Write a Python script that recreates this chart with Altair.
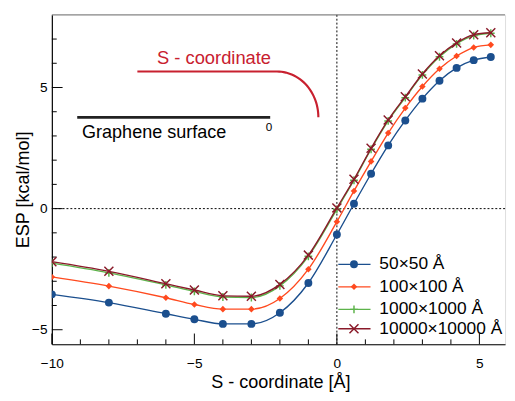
import altair as alt
import pandas as pd
import numpy as np

# ---- data ----
x_vals = [-10, -8, -6, -5, -4, -3, -2, -1, 0, 0.6, 1.2, 1.8, 2.4, 3.0, 3.6, 4.2, 4.8, 5.4]
series_names = ["50×50 Å", "100×100 Å", "1000×1000 Å", "10000×10000 Å"]
esp_50 = [-3.54, -3.88, -4.34, -4.57, -4.76, -4.76, -4.30, -3.07, -1.07, 0.20, 1.44, 2.61, 3.64, 4.54, 5.28, 5.81, 6.13, 6.26]
esp_100 = [-2.82, -3.20, -3.68, -3.96, -4.15, -4.15, -3.71, -2.50, -0.54, 0.73, 1.95, 3.12, 4.15, 5.04, 5.77, 6.30, 6.65, 6.76]
esp_1000 = [-2.25, -2.65, -3.15, -3.42, -3.65, -3.67, -3.19, -1.97, -0.03, 1.17, 2.45, 3.62, 4.58, 5.52, 6.27, 6.80, 7.14, 7.24]
esp_10000 = [-2.19, -2.59, -3.10, -3.36, -3.60, -3.62, -3.13, -1.92, 0.03, 1.21, 2.49, 3.66, 4.62, 5.56, 6.31, 6.84, 7.18, 7.26]
all_series = [esp_50, esp_100, esp_1000, esp_10000]

x_major = [-10, -5, 0, 5]
x_minor = [v for v in range(-9, 6) if v not in x_major]
y_major = [-5, 0, 5]
y_minor = [v for v in range(-4, 8) if v not in y_major]

colors = ["#1b4f8e", "#ff4a1f", "#5cb34a", "#8a1a2a"]
shapes = ["circle", "diamond", "M-1,0L1,0M0,-1L0,1", "M-1,-1L1,1M-1,1L1,-1"]
sizes = [66, 45, 64, 85]
filled = [True, True, False, False]

# legend layout (data coordinates)
legend_rows_y = [-2.30, -3.23, -4.16, -4.96]
legend_line_x = [0.05, 1.18]
legend_marker_x = 0.6
legend_text_x = 1.49

# annotation geometry (data coordinates)
s_line_start_x = -7.0
arc_center = (-2.10, 3.77)
arc_radii = (1.45, 1.89)
graphene_x = [-9.11, -2.34]
graphene_y = 3.77

W, H = 465, 338
FONT = "Liberation Sans"

xs = alt.Scale(domain=[-10, 5.9], nice=False, zero=False)
ys = alt.Scale(domain=[-5.6, 8], nice=False, zero=False)

x_axis = alt.Axis(values=x_major, ticks=False, tickSize=0, grid=False, domainColor="black",
                  domainWidth=1.2, labelFontSize=14, labelPadding=13, labelColor="black",
                  labelFlush=False, labelOverlap=False,
                  title="S - coordinate [Å]", titleFontSize=18.5, titleFontWeight="normal",
                  titleColor="black", titleX=W / 2 + 2, titleY=44, titleBaseline="alphabetic")
y_axis = alt.Axis(values=y_major, ticks=False, tickSize=0, grid=False, domainColor="black",
                  domainWidth=1.2, labelFontSize=14, labelPadding=5, labelColor="black",
                  labelFlush=False, labelOverlap=False,
                  title="ESP [kcal/mol]", titleFontSize=18.5, titleFontWeight="normal",
                  titleColor="black", titleX=-30, titleY=H / 2 + 10, titleBaseline="middle",
                  titleAlign="center")

rows = []
for name, vals in zip(series_names, all_series):
    for xv, yv in zip(x_vals, vals):
        rows.append({"series": name, "x": xv, "y": yv})
df = pd.DataFrame(rows)

layers = []

# base with axes
base = alt.Chart(df[df.series == series_names[0]]).mark_line(opacity=0).encode(
    x=alt.X("x:Q", scale=xs, axis=x_axis),
    y=alt.Y("y:Q", scale=ys, axis=y_axis),
)
layers.append(base)

# dotted reference lines
layers.append(alt.Chart(pd.DataFrame({"v": [0]})).mark_rule(color="black", strokeDash=[2, 2], strokeWidth=1).encode(
    y=alt.Y("v:Q", scale=ys)))
layers.append(alt.Chart(pd.DataFrame({"v": [0]})).mark_rule(color="black", strokeDash=[2, 2], strokeWidth=1).encode(
    x=alt.X("v:Q", scale=xs)))
# top frame
layers.append(alt.Chart(pd.DataFrame({"v": [8]})).mark_rule(color="#777777", strokeWidth=1).encode(
    y=alt.Y("v:Q", scale=ys)))

# inward ticks
layers.append(alt.Chart(pd.DataFrame({"v": y_major})).mark_rule(color="black", strokeWidth=1).encode(
    y=alt.Y("v:Q", scale=ys), x=alt.value(0), x2=alt.value(11)))
layers.append(alt.Chart(pd.DataFrame({"v": y_minor})).mark_rule(color="black", strokeWidth=1).encode(
    y=alt.Y("v:Q", scale=ys), x=alt.value(0), x2=alt.value(5)))
layers.append(alt.Chart(pd.DataFrame({"v": x_major})).mark_rule(color="black", strokeWidth=1).encode(
    x=alt.X("v:Q", scale=xs), y=alt.value(H), y2=alt.value(H - 11)))
layers.append(alt.Chart(pd.DataFrame({"v": x_minor})).mark_rule(color="black", strokeWidth=1).encode(
    x=alt.X("v:Q", scale=xs), y=alt.value(H), y2=alt.value(H - 5)))

# series
for i, name in enumerate(series_names):
    sub = df[df.series == name]
    layers.append(alt.Chart(sub).mark_line(color=colors[i], strokeWidth=1.4, interpolate="monotone", clip=True).encode(
        x=alt.X("x:Q", scale=xs), y=alt.Y("y:Q", scale=ys)))
    layers.append(alt.Chart(sub).mark_point(color=colors[i], shape=shapes[i], size=sizes[i], filled=filled[i],
                                            opacity=1, strokeWidth=1.5, clip=True).encode(
        x=alt.X("x:Q", scale=xs), y=alt.Y("y:Q", scale=ys)))

# legend
leg = pd.DataFrame({"name": series_names, "y": legend_rows_y,
                    "x1": [legend_line_x[0]] * 4, "x2": [legend_line_x[1]] * 4,
                    "xm": [legend_marker_x] * 4, "xt": [legend_text_x] * 4})
for i, name in enumerate(series_names):
    row = leg[leg.name == name]
    layers.append(alt.Chart(row).mark_rule(color=colors[i], strokeWidth=1.4).encode(
        x=alt.X("x1:Q", scale=xs), x2="x2:Q", y=alt.Y("y:Q", scale=ys)))
    layers.append(alt.Chart(row).mark_point(color=colors[i], shape=shapes[i], size=sizes[i], filled=filled[i],
                                            opacity=1, strokeWidth=1.5).encode(
        x=alt.X("xm:Q", scale=xs), y=alt.Y("y:Q", scale=ys)))
layers.append(alt.Chart(leg).mark_text(align="left", baseline="middle", fontSize=17.8, font=FONT, color="black").encode(
    x=alt.X("xt:Q", scale=xs), y=alt.Y("y:Q", scale=ys), text="name:N"))

# annotations: S-coordinate path
cx, cy = arc_center
rx, ry = arc_radii
ang = np.linspace(np.pi / 2, 0, 30)
path_x = [s_line_start_x] + list(cx + rx * np.cos(ang))
path_y = [cy + ry] + list(cy + ry * np.sin(ang))
path = pd.DataFrame({"x": path_x, "y": path_y, "o": range(len(path_x))})
layers.append(alt.Chart(path).mark_line(color="#c8202f", strokeWidth=2.2).encode(
    x=alt.X("x:Q", scale=xs), y=alt.Y("y:Q", scale=ys), order="o:Q"))
layers.append(alt.Chart(pd.DataFrame({"x": [-6.31], "y": [5.99], "t": ["S - coordinate"]})).mark_text(
    align="left", baseline="alphabetic", fontSize=18.8, font=FONT, color="#c8202f").encode(
    x=alt.X("x:Q", scale=xs), y=alt.Y("y:Q", scale=ys), text="t:N"))

# graphene surface
gdf = pd.DataFrame({"x": [graphene_x[0]], "x2": [graphene_x[1]], "y": [graphene_y]})
layers.append(alt.Chart(gdf).mark_rule(color="#222222", strokeWidth=2.8).encode(
    x=alt.X("x:Q", scale=xs), x2="x2:Q", y=alt.Y("y:Q", scale=ys)))
layers.append(alt.Chart(pd.DataFrame({"x": [-8.94], "y": [2.93], "t": ["Graphene surface"]})).mark_text(
    align="left", baseline="alphabetic", fontSize=18.5, font=FONT, color="black").encode(
    x=alt.X("x:Q", scale=xs), y=alt.Y("y:Q", scale=ys), text="t:N"))
layers.append(alt.Chart(pd.DataFrame({"x": [-2.38], "y": [3.37], "t": ["0"]})).mark_text(
    align="center", baseline="middle", fontSize=12, font=FONT, color="black").encode(
    x=alt.X("x:Q", scale=xs), y=alt.Y("y:Q", scale=ys), text="t:N"))

chart = alt.layer(*layers).properties(
    width=W, height=H,
    padding={"left": 45, "top": 2, "right": 2, "bottom": 45},
    autosize=alt.AutoSizeParams(type="none"),
).configure_view(stroke=None).configure(font=FONT, background="white")

chart.save("out.html", embed_options={"renderer": "svg", "actions": False})
